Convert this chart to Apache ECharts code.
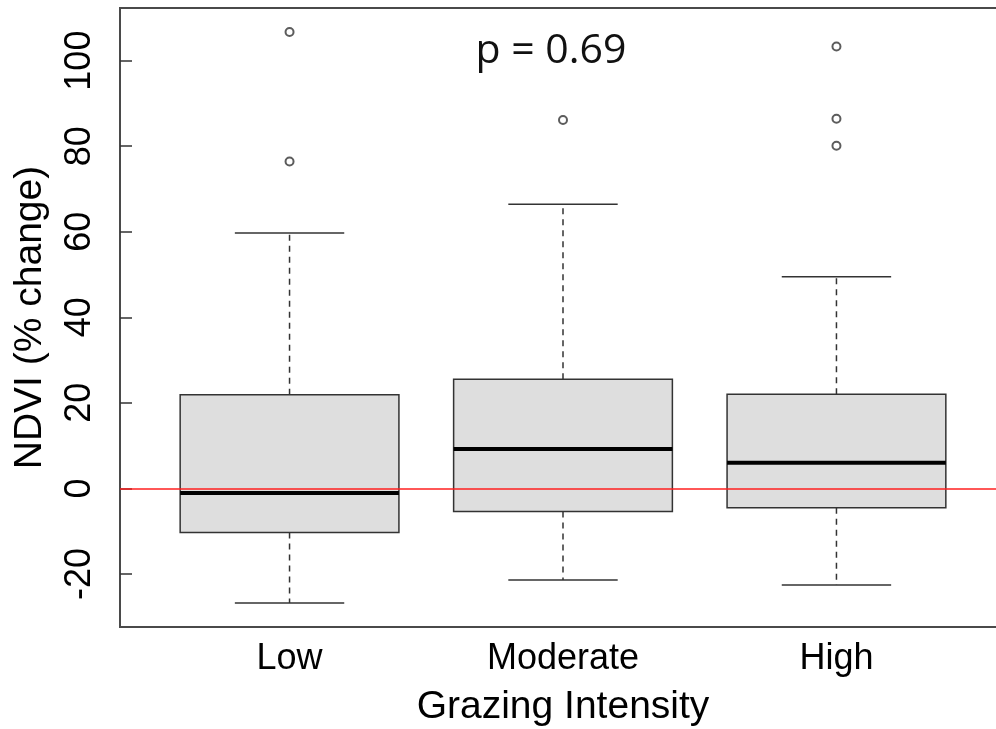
<!DOCTYPE html>
<html>
<head>
<meta charset="utf-8">
<title>NDVI by Grazing Intensity</title>
<script src="https://cdn.jsdelivr.net/npm/echarts@6/dist/echarts.min.js"></script>
<style>
  html, body { margin: 0; padding: 0; background: #ffffff; overflow: hidden; }
  #chart { width: 996px; height: 729px; }
</style>
</head>
<body>
<div id="chart"></div>
<script>
// Grazing intensity groups and their box statistics (NDVI, % change)
const categories = ['Low', 'Moderate', 'High'];
const whiskerLow = [-26.8, -21.4, -22.6];
const quartile1 = [-10.3, -5.4, -4.5];
const medians = [-1.1, 9.2, 6.0];
const quartile3 = [21.9, 25.5, 22.0];
const whiskerHigh = [59.7, 66.4, 49.5];

// Points beyond the whiskers, per group
const outliersLow = [106.7, 76.4];
const outliersModerate = [86.1];
const outliersHigh = [103.3, 86.4, 80.1];

// Tick values drawn on the value axis
const yTicks = [-20, 0, 20, 40, 60, 80, 100];
const xTicks = [1, 2, 3];

const pValueText = 'p = 0.69';

const boxData = categories.map((c, i) => [
  i + 1, whiskerLow[i], quartile1[i], medians[i], quartile3[i], whiskerHigh[i]
]);

const outlierData = [];
[outliersLow, outliersModerate, outliersHigh].forEach((list, i) => {
  list.forEach(v => outlierData.push([i + 1, v]));
});

const LINE = '#333333';
const BOX_FRACTION = 0.8;

function renderBox(params, api) {
  const x = api.value(0);
  const lo = api.value(1), q1 = api.value(2), med = api.value(3),
        q3 = api.value(4), hi = api.value(5);
  const half = api.size([BOX_FRACTION, 0])[0] / 2;
  const cx = api.coord([x, 0])[0];
  const py = v => api.coord([x, v])[1];
  const dashed = { stroke: LINE, lineWidth: 1.5, lineDash: [6, 5], fill: null };
  const solid = { stroke: LINE, lineWidth: 1.5, fill: null };
  return {
    type: 'group',
    children: [
      { type: 'line', shape: { x1: cx, y1: py(q3), x2: cx, y2: py(hi) }, style: dashed },
      { type: 'line', shape: { x1: cx, y1: py(q1), x2: cx, y2: py(lo) }, style: dashed },
      { type: 'line', shape: { x1: cx - half / 2, y1: py(hi), x2: cx + half / 2, y2: py(hi) }, style: solid },
      { type: 'line', shape: { x1: cx - half / 2, y1: py(lo), x2: cx + half / 2, y2: py(lo) }, style: solid },
      { type: 'rect', shape: { x: cx - half, y: py(q3), width: 2 * half, height: py(q1) - py(q3) },
        style: { fill: '#dedede', stroke: LINE, lineWidth: 1.5 } },
      { type: 'line', shape: { x1: cx - half, y1: py(med), x2: cx + half, y2: py(med) },
        style: { stroke: '#000000', lineWidth: 4 } }
    ]
  };
}

const chart = echarts.init(document.getElementById('chart'), null, { renderer: 'canvas' });

chart.setOption({
  animation: false,
  backgroundColor: '#ffffff',
  title: {
    text: pValueText,
    left: 546,
    top: 26,
    textAlign: 'center',
    textStyle: { fontFamily: 'Open Sans', fontSize: 41, fontWeight: 'normal', color: '#111111' }
  },
  grid: {
    // the frame's right side sits just past the edge of the canvas
    left: 120, top: 8, width: 886, bottom: 102,
    outerBoundsMode: 'none',
    show: true, borderColor: '#4a4a4a', borderWidth: 2, backgroundColor: 'transparent'
  },
  xAxis: {
    type: 'value',
    min: 0.38,
    max: 3.62,
    name: 'Grazing Intensity',
    nameLocation: 'middle',
    nameGap: 61,
    nameTextStyle: { fontFamily: 'Liberation Sans', fontSize: 39, color: '#000000' },
    axisLine: { show: false },
    splitLine: { show: false },
    axisTick: { show: true, inside: true, length: 14, customValues: xTicks,
                lineStyle: { color: LINE, width: 1.5 } },
    axisLabel: {
      customValues: xTicks,
      margin: 14,
      fontFamily: 'Liberation Sans', fontSize: 36, color: '#000000',
      formatter: v => categories[Math.round(v) - 1] || ''
    }
  },
  yAxis: {
    type: 'value',
    min: -32.4,
    max: 112.3,
    name: 'NDVI (% change)',
    nameLocation: 'middle',
    nameGap: 70,
    nameTextStyle: { fontFamily: 'Liberation Sans', fontSize: 39, color: '#000000' },
    axisLine: { show: false },
    splitLine: { show: false },
    axisTick: { show: true, inside: true, length: 12, customValues: yTicks,
                lineStyle: { color: LINE, width: 1.5 } },
    axisLabel: {
      customValues: yTicks,
      rotate: 90,
      margin: 22,
      fontFamily: 'Liberation Sans', fontSize: 36, color: '#000000'
    }
  },
  series: [
    {
      name: 'boxes',
      type: 'custom',
      renderItem: renderBox,
      encode: { x: 0, y: [1, 2, 3, 4, 5] },
      data: boxData,
      z: 2
    },
    {
      name: 'outliers',
      type: 'scatter',
      data: outlierData,
      symbol: 'emptyCircle',
      symbolSize: 8,
      itemStyle: { color: LINE, borderColor: LINE, borderWidth: 1.5 },
      z: 3,
      markLine: {
        silent: true,
        symbol: 'none',
        label: { show: false },
        lineStyle: { color: '#ff1f1f', width: 1.5, type: 'solid' },
        data: [{ yAxis: 0 }]
      }
    }
  ]
});
</script>
</body>
</html>
